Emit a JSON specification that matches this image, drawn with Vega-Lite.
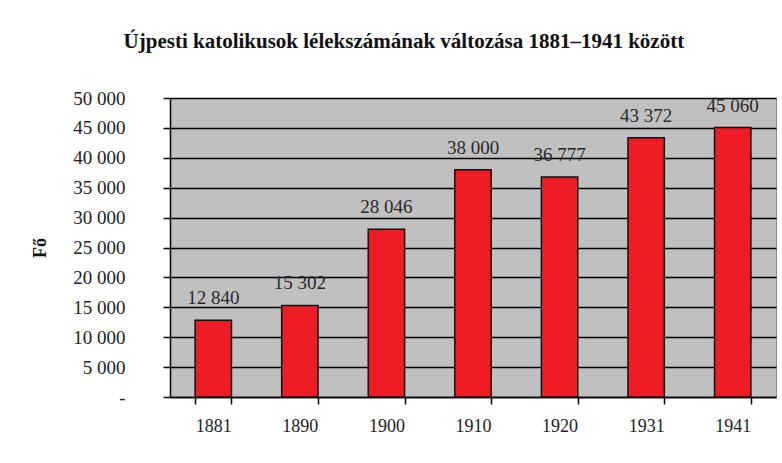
{
  "$schema": "https://vega.github.io/schema/vega-lite/v6.json",
  "autosize": "none",
  "width": 606,
  "height": 299,
  "padding": {"left": 170, "top": 98, "right": 6, "bottom": 66},
  "background": "white",
  "title": {
    "text": "Újpesti katolikusok lélekszámának változása 1881–1941 között",
    "font": "Liberation Serif",
    "fontSize": 21,
    "fontWeight": "bold",
    "color": "#111",
    "anchor": "middle",
    "frame": "bounds",
    "offset": 37
  },
  "data": {
    "values": [
      {"ev": "1881", "fo": 12840},
      {"ev": "1890", "fo": 15302},
      {"ev": "1900", "fo": 28046},
      {"ev": "1910", "fo": 38000},
      {"ev": "1920", "fo": 36777},
      {"ev": "1931", "fo": 43372},
      {"ev": "1941", "fo": 45060}
    ]
  },
  "config": {
    "locale": {"number": {"decimal": ",", "thousands": " ", "grouping": [3], "currency": ["", ""]}},
    "view": {"fill": "#c0c0c0", "stroke": "#8a8a8a", "strokeWidth": 1},
    "axis": {"labelFont": "Liberation Serif", "titleFont": "Liberation Serif"}
  },
  "encoding": {
    "x": {
      "field": "ev", "type": "nominal", "sort": null,
      "scale": {"paddingInner": 0.58, "paddingOuter": 0.29},
      "axis": {
        "title": null, "labelAngle": 0, "labelFontSize": 18, "labelColor": "#222",
        "domainColor": "#000", "domainWidth": 1.5, "tickColor": "#000", "tickWidth": 1.5,
        "tickSize": 7, "tickBand": "extent", "labelPadding": 13
      }
    },
    "y": {
      "field": "fo", "type": "quantitative",
      "scale": {"domain": [0, 50000]},
      "axis": {
        "title": "Fő", "titleFontSize": 18, "titleFontWeight": "bold", "titleColor": "#111",
        "titlePadding": 23,
        "values": [0, 5000, 10000, 15000, 20000, 25000, 30000, 35000, 40000, 45000, 50000],
        "labelExpr": "datum.value == 0 ? '-' : format(datum.value, ',')",
        "labelFontSize": 19, "labelColor": "#222", "labelPadding": 38,
        "encode": {"labels": {"update": {"dx": {"signal": "datum.value == 0 ? -19 : 0"}}}},
        "grid": true, "gridColor": "#000", "gridWidth": 1.5,
        "domainColor": "#000", "domainWidth": 1.5, "tickColor": "#000", "tickWidth": 1.5, "tickSize": 7
      }
    }
  },
  "layer": [
    {"mark": {"type": "bar", "fill": "#ee1c25", "stroke": "#111", "strokeWidth": 1.5}},
    {
      "mark": {"type": "text", "baseline": "middle", "dy": -22, "font": "Liberation Serif", "fontSize": 19, "color": "#2a2a2a"},
      "encoding": {
        "text": {"field": "fo", "type": "quantitative", "format": ","}
      }
    }
  ]
}
